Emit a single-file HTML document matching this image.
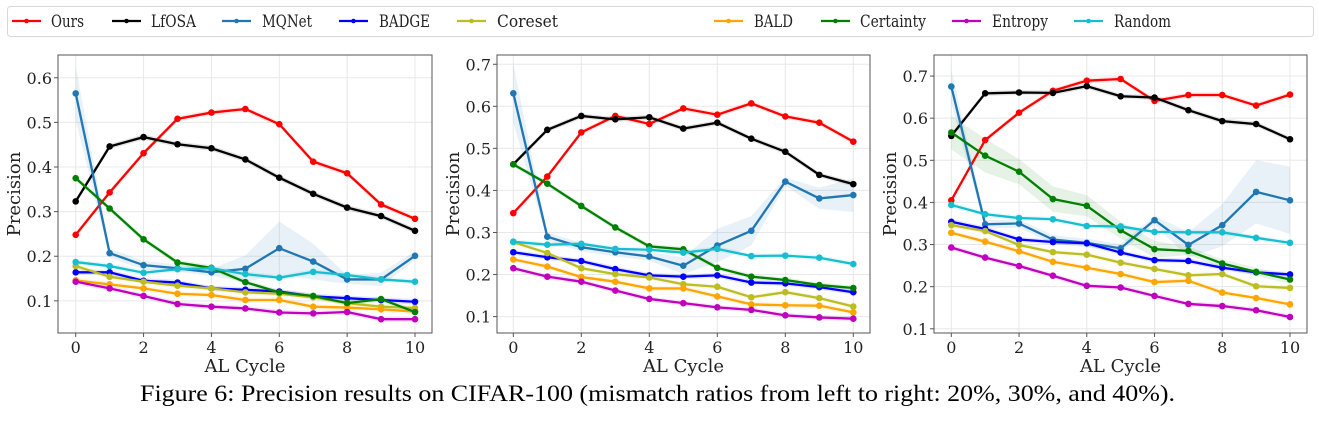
<!DOCTYPE html>
<html><head><meta charset="utf-8">
<style>
body{margin:0;background:#fff;width:1319px;height:425px;overflow:hidden}
svg{display:block}
text{font-family:"DejaVu Serif","Liberation Serif",serif;fill:#222}
</style></head>
<body>
<svg id="chart" width="1319" height="425" xmlns="http://www.w3.org/2000/svg">
<g id="legend"></g>
<g id="panels"></g>
<text x="140" y="401" textLength="1035" lengthAdjust="spacingAndGlyphs" style="font-family:'Liberation Serif',serif;font-size:23px;fill:#000">Figure 6: Precision results on CIFAR-100 (mismatch ratios from left to right: 20%, 30%, and 40%).</text>
</svg>
<script>
const xCycles=[0,1,2,3,4,5,6,7,8,9,10];
const methods=["Ours","LfOSA","MQNet","BADGE","Coreset","BALD","Certainty","Entropy","Random"];
const colors=["#ff0000","#000000","#1f77b4","#0000ff","#bcbd22","#ffa500","#008000","#bf00bf","#17becf"];
const p1Ours=[0.248,0.343,0.431,0.508,0.522,0.530,0.496,0.412,0.386,0.316,0.284];
const p1LfOSA=[0.323,0.446,0.467,0.451,0.442,0.417,0.376,0.340,0.309,0.290,0.257];
const p1MQNet=[0.565,0.207,0.180,0.173,0.164,0.172,0.218,0.188,0.148,0.148,0.201];
const p1BADGE=[0.164,0.164,0.145,0.141,0.128,0.125,0.121,0.110,0.106,0.102,0.098];
const p1Coreset=[0.178,0.154,0.143,0.134,0.128,0.119,0.116,0.108,0.095,0.087,0.084];
const p1BALD=[0.146,0.137,0.128,0.116,0.113,0.102,0.102,0.087,0.085,0.081,0.076];
const p1Certainty=[0.375,0.307,0.238,0.186,0.174,0.142,0.119,0.111,0.095,0.104,0.075];
const p1Entropy=[0.143,0.128,0.111,0.093,0.087,0.083,0.074,0.072,0.075,0.059,0.059];
const p1Random=[0.187,0.178,0.163,0.171,0.173,0.160,0.152,0.165,0.158,0.148,0.143];
const p2Ours=[0.346,0.433,0.538,0.577,0.558,0.595,0.580,0.607,0.576,0.561,0.516];
const p2LfOSA=[0.462,0.544,0.577,0.569,0.574,0.547,0.561,0.523,0.492,0.437,0.415];
const p2MQNet=[0.631,0.290,0.265,0.253,0.243,0.221,0.269,0.304,0.421,0.381,0.389];
const p2BADGE=[0.253,0.241,0.232,0.213,0.198,0.195,0.198,0.181,0.179,0.170,0.158];
const p2Coreset=[0.277,0.251,0.215,0.201,0.193,0.177,0.171,0.146,0.158,0.144,0.124];
const p2BALD=[0.236,0.219,0.194,0.183,0.167,0.167,0.148,0.129,0.127,0.126,0.110];
const p2Certainty=[0.462,0.416,0.363,0.312,0.267,0.260,0.216,0.195,0.187,0.175,0.168];
const p2Entropy=[0.215,0.195,0.183,0.162,0.142,0.132,0.122,0.116,0.103,0.098,0.095];
const p2Random=[0.278,0.271,0.273,0.261,0.259,0.252,0.261,0.244,0.245,0.240,0.225];
const p3Ours=[0.405,0.548,0.613,0.665,0.689,0.693,0.641,0.655,0.655,0.630,0.656];
const p3LfOSA=[0.558,0.659,0.661,0.660,0.676,0.652,0.649,0.619,0.593,0.586,0.550];
const p3MQNet=[0.675,0.348,0.350,0.312,0.304,0.291,0.358,0.299,0.346,0.425,0.405];
const p3BADGE=[0.354,0.337,0.312,0.306,0.303,0.281,0.263,0.261,0.245,0.234,0.229];
const p3Coreset=[0.346,0.332,0.299,0.282,0.276,0.257,0.242,0.227,0.230,0.201,0.197];
const p3BALD=[0.328,0.307,0.284,0.259,0.245,0.230,0.211,0.214,0.186,0.173,0.158];
const p3Certainty=[0.566,0.511,0.473,0.408,0.392,0.334,0.289,0.285,0.255,0.235,0.217];
const p3Entropy=[0.293,0.269,0.249,0.226,0.202,0.198,0.178,0.159,0.154,0.144,0.128];
const p3Random=[0.394,0.372,0.363,0.360,0.344,0.343,0.330,0.329,0.329,0.316,0.304];
const p1MQNetStd=[0.06,0.01,0.01,0.008,0.008,0.03,0.06,0.04,0.01,0.015,0.01];
const p2MQNetStd=[0.07,0.01,0.01,0.01,0.01,0.02,0.04,0.035,0.01,0.025,0.04];
const p3MQNetStd=[0.04,0.01,0.01,0.01,0.01,0.01,0.01,0.03,0.05,0.075,0.08];
const p3CertaintyStd=[0.04,0.04,0.03,0.03,0.025,0.02,0.02,0.01,0.01,0.01,0.01];
const p1YTicks=[0.1,0.2,0.3,0.4,0.5,0.6];
const p2YTicks=[0.1,0.2,0.3,0.4,0.5,0.6,0.7];
const p3YTicks=[0.1,0.2,0.3,0.4,0.5,0.6,0.7];
const xTicks=[0,2,4,6,8,10];

const NS="http://www.w3.org/2000/svg";
function mk(tag,attrs,parent){const e=document.createElementNS(NS,tag);for(const k in attrs)e.setAttribute(k,attrs[k]);parent.appendChild(e);return e;}

const panels=[
 {id:"panel-20pct",L:58,R:432,T:55,B:333,x0:75.7,x10:415,ymin:0.028,ymax:0.651,ticks:p1YTicks,
  series:[p1Ours,p1LfOSA,p1MQNet,p1BADGE,p1Coreset,p1BALD,p1Certainty,p1Entropy,p1Random],mqStd:p1MQNetStd,certStd:null},
 {id:"panel-30pct",L:497,R:870,T:55,B:333,x0:513.3,x10:853.3,ymin:0.061,ymax:0.722,ticks:p2YTicks,
  series:[p2Ours,p2LfOSA,p2MQNet,p2BADGE,p2Coreset,p2BALD,p2Certainty,p2Entropy,p2Random],mqStd:p2MQNetStd,certStd:null},
 {id:"panel-40pct",L:934,R:1307,T:55,B:333,x0:951.3,x10:1290,ymin:0.09,ymax:0.75,ticks:p3YTicks,
  series:[p3Ours,p3LfOSA,p3MQNet,p3BADGE,p3Coreset,p3BALD,p3Certainty,p3Entropy,p3Random],mqStd:p3MQNetStd,certStd:p3CertaintyStd}
];
const root=document.getElementById('panels');
panels.forEach(p=>{
  const g=mk('g',{},root);
  
  
  const xs=v=>p.x0+(v-0)/(10-0)*(p.x10-p.x0);
  const ys=v=>p.B-(v-p.ymin)/(p.ymax-p.ymin)*(p.B-p.T);
  xTicks.forEach(t=>{mk('line',{x1:xs(t),x2:xs(t),y1:p.T,y2:p.B,stroke:'#e8e8e8','stroke-width':1},g);});
  p.ticks.forEach(t=>{mk('line',{x1:p.L,x2:p.R,y1:ys(t),y2:ys(t),stroke:'#e8e8e8','stroke-width':1},g);});
  p.series.forEach((s,i)=>{
    let std=s.map(()=>0.006);
    if(i===2)std=p.mqStd;
    if(i===6&&p.certStd)std=p.certStd;
    const up=s.map((v,k)=>xs(xCycles[k])+','+ys(v+std[k]));
    const dn=s.map((v,k)=>xs(xCycles[k])+','+ys(v-std[k])).reverse();
    const b=mk('polygon',{points:up.concat(dn).join(' '),fill:colors[i],'fill-opacity':0.1,stroke:'none'},g);
    
    
  });
  p.series.forEach((s,i)=>{
    const pl=mk('polyline',{points:s.map((v,k)=>xs(xCycles[k])+','+ys(v)).join(' '),fill:'none',stroke:colors[i],'stroke-width':2.3},g);
    
    
    s.forEach((v,k)=>{
      const c=mk('circle',{cx:xs(xCycles[k]),cy:ys(v),r:3.3,fill:colors[i]},g);
      
      
    });
  });
  const fr=mk('rect',{x:p.L,y:p.T,width:p.R-p.L,height:p.B-p.T,fill:'none',stroke:'#555','stroke-width':1},g);
  
  
  xTicks.forEach(t=>{
    mk('line',{x1:xs(t),x2:xs(t),y1:p.B,y2:p.B+4,stroke:'#555'},g);
    const tx=mk('text',{x:xs(t),y:p.B+20,'text-anchor':'middle','font-size':16},g);
    tx.textContent=t;
    
    
  });
  p.ticks.forEach(t=>{
    mk('line',{x1:p.L-4,x2:p.L,y1:ys(t),y2:ys(t),stroke:'#555'},g);
    const tx=mk('text',{x:p.L-6,y:ys(t)+6,'text-anchor':'end','font-size':16},g);
    tx.textContent=t.toFixed(1);
    
    
  });
  const xl=mk('text',{x:(p.L+p.R)/2,y:372,'text-anchor':'middle','font-size':18},g);
  xl.textContent='AL Cycle';
  
  
  const yl=mk('text',{x:0,y:0,'text-anchor':'middle','font-size':18,transform:'translate('+(p.L-38)+','+((p.T+p.B)/2)+') rotate(-90)'},g);
  yl.textContent='Precision';
  
  
});
const lg=document.getElementById('legend');
mk('rect',{x:7.5,y:6.5,width:1306,height:30,rx:3,fill:'#fff',stroke:'#d8d8d8'},lg);
const legX=[12,112,222,339,457,714,821,952,1074];
const legTextX=[51,151,262,379,497,754,860,992,1114];
const legTextW=[33,45,50,51,61,39,66,56,57];
methods.forEach((m,i)=>{
  const e=mk('g',{},lg);
  
  
  mk('line',{x1:legX[i],x2:legX[i]+29,y1:21,y2:21,stroke:colors[i],'stroke-width':2.3},e);
  mk('circle',{cx:legX[i]+14.5,cy:21,r:2.3,fill:colors[i]},e);
  const t=mk('text',{x:legTextX[i],y:27,'font-size':17,textLength:legTextW[i],lengthAdjust:'spacingAndGlyphs'},e);
  t.textContent=m;
});
</script>
</body></html>
